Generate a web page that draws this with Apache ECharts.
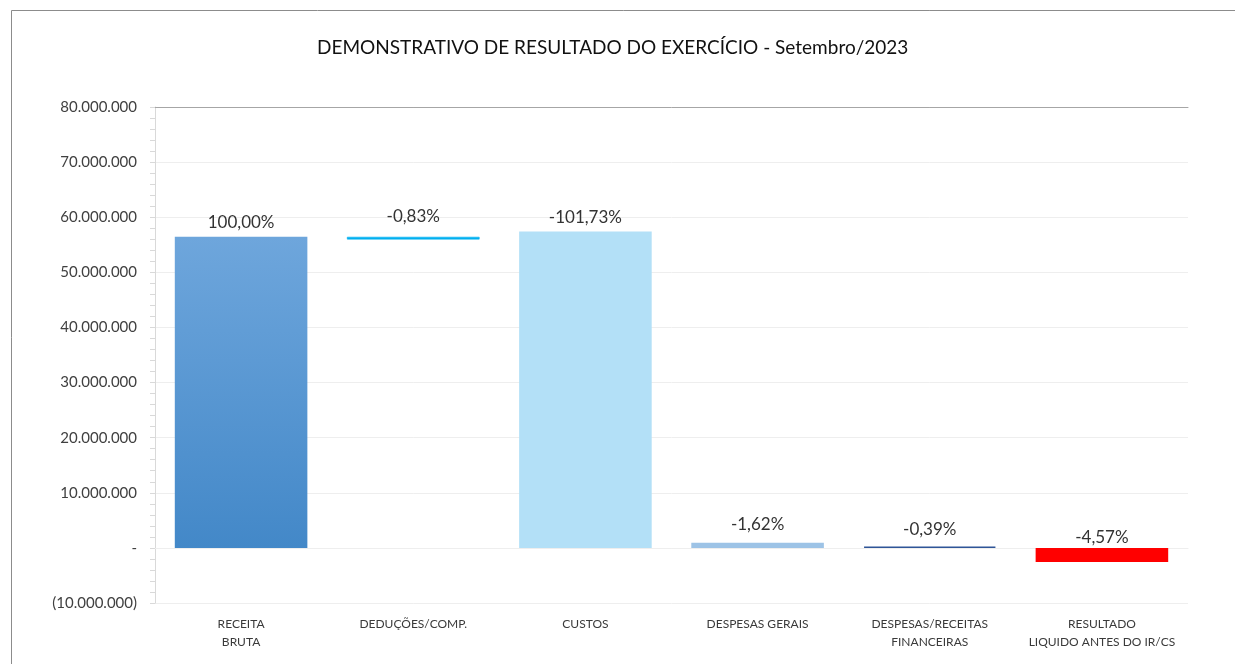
<!DOCTYPE html>
<html>
<head>
<meta charset="utf-8">
<script src="https://cdn.jsdelivr.net/npm/echarts@6/dist/echarts.min.js"></script>
<style>
  html, body { margin: 0; padding: 0; background: #ffffff; }
  #chart { width: 1235px; height: 664px; }
</style>
</head>
<body>
<div id="chart"></div>
<script>
// ---- data ----
const titleText = 'DEMONSTRATIVO DE RESULTADO DO EXERCÍCIO - Setembro/2023';
const categories = ['RECEITA\nBRUTA', 'DEDUÇÕES/COMP.', 'CUSTOS', 'DESPESAS GERAIS', 'DESPESAS/RECEITAS\nFINANCEIRAS', 'RESULTADO\nLIQUIDO ANTES DO IR/CS'];
const baseValues = [0, 55970000, 0, 0, 0, 0];
const barValues = [56440000, 470000, 57420000, 910000, 220000, -2580000];
const pctLabels = ['100,00%', '-0,83%', '-101,73%', '-1,62%', '-0,39%', '-4,57%'];
const yMin = -10000000;
const yMax = 80000000;
const yInterval = 10000000;

// ---- styling ----
const barColors = [
  new echarts.graphic.LinearGradient(0, 0, 0, 1, [
    { offset: 0, color: '#6ea6dc' },
    { offset: 1, color: '#4388c8' }
  ]),
  '#00b0f0', '#b3e0f7', '#9dc3e6', '#2f5597', '#ff0000'
];
const barBorders = [0, 0.6, 0, 0, 1.6, 0];
const labelGaps = [6, 12, 5, 10, 8, 2];
const fontFamily = 'Lato, "Open Sans", sans-serif';

function fmtAxis(v) {
  if (v === 0) return '-';
  const s = Math.abs(v).toFixed(0).replace(/\B(?=(\d{3})+(?!\d))/g, '.');
  return v < 0 ? '(' + s + ')' : s;
}

const chart = echarts.init(document.getElementById('chart'), null, { renderer: 'canvas' });

const valueData = barValues.map((v, i) => ({
  value: v,
  itemStyle: {
    color: barColors[i],
    borderColor: typeof barColors[i] === 'string' ? barColors[i] : 'transparent',
    borderWidth: barBorders[i]
  },
  label: {
    show: true,
    position: 'top',
    distance: labelGaps[i],
    formatter: pctLabels[i]
  }
}));

chart.setOption({
  backgroundColor: '#ffffff',
  animation: false,
  title: {
    text: titleText,
    left: 317,
    top: 38,
    padding: 0,
    textStyle: { fontFamily: fontFamily, fontSize: 19, fontWeight: 'normal', color: '#111111' }
  },
  graphic: [{
    type: 'rect',
    shape: { x: 11.5, y: 10.5, width: 1300, height: 800 },
    style: { fill: 'none', stroke: '#8c8c8c', lineWidth: 1 },
    silent: true,
    z: 100
  }],
  grid: { left: 155, right: 47, top: 107, bottom: 61, containLabel: false },
  xAxis: [{
    type: 'category',
    data: categories,
    axisLine: { show: true, onZero: true, lineStyle: { color: '#eeeeee' } },
    axisTick: { show: false },
    axisLabel: {
      show: true,
      interval: 0,
      fontFamily: fontFamily,
      fontSize: 12,
      color: '#3a3a3a',
      lineHeight: 18,
      margin: 12
    },
    position: 'bottom'
  }, {
    type: 'category',
    data: categories,
    position: 'top',
    axisLine: { show: true, onZero: false, lineStyle: { color: '#a6a6a6' } },
    axisTick: { show: false },
    axisLabel: { show: false }
  }],
  yAxis: {
    type: 'value',
    min: yMin,
    max: yMax,
    interval: yInterval,
    axisLine: { show: true, lineStyle: { color: '#d9d9d9' } },
    axisTick: { show: true, length: 5, lineStyle: { color: '#d9d9d9' } },
    minorTick: { show: true, splitNumber: 5, length: 5, lineStyle: { color: '#d9d9d9' } },
    splitLine: { show: true, lineStyle: { color: '#eeeeee' } },
    axisLabel: {
      formatter: fmtAxis,
      fontFamily: fontFamily,
      fontSize: 15,
      color: '#404040',
      margin: 18
    }
  },
  series: [{
    type: 'bar',
    stack: 'w',
    barWidth: '77%',
    data: baseValues,
    itemStyle: { color: 'transparent' },
    silent: true
  }, {
    type: 'bar',
    stack: 'w',
    barWidth: '77%',
    data: valueData,
    label: {
      fontFamily: fontFamily,
      fontSize: 17,
      color: '#333333'
    }
  }]
});
</script>
</body>
</html>
